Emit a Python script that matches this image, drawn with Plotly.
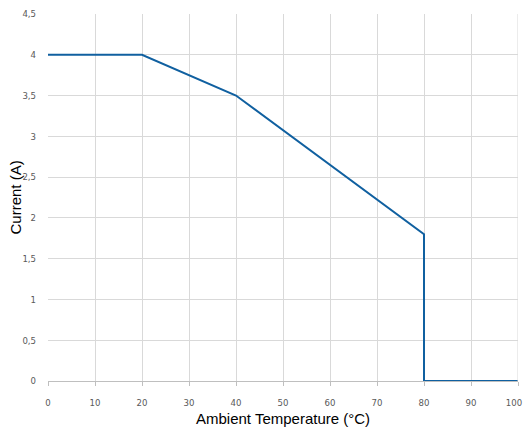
import plotly.graph_objects as go

temperature = [0, 20, 40, 80, 80, 100]
current = [4, 4, 3.5, 1.8, 0, 0]
x_ticks = [0, 10, 20, 30, 40, 50, 60, 70, 80, 90, 100]
y_ticks = [0, 0.5, 1, 1.5, 2, 2.5, 3, 3.5, 4, 4.5]

# last label padded so it stays inside the page edge
x_ticktext = [str(v) for v in x_ticks]
x_ticktext[-1] = x_ticktext[-1] + "\u00a0\u00a0\u00a0"

fig = go.Figure()
fig.add_trace(go.Scatter(x=temperature, y=current, mode="lines",
                         line=dict(color="#1060a0", width=2), cliponaxis=False))

tick_font = dict(family="Liberation Sans Narrow, Arial Narrow, DejaVu Sans Condensed, sans-serif", size=9.5, color="#595959")
title_font = dict(family="Arial, Liberation Sans, sans-serif", size=15, color="black")
fig.update_layout(
    width=523, height=430,
    margin=dict(l=48, r=5, t=14, b=49, autoexpand=False),
    paper_bgcolor="white", plot_bgcolor="white",
    separators=",.",
    showlegend=False,
    xaxis=dict(range=[0, 100], tickvals=x_ticks, ticktext=x_ticktext, showgrid=True,
               gridcolor="#d9d9d9", gridwidth=1, zeroline=False, showline=True,
               linecolor="#bfbfbf", ticks="outside", ticklen=4, tickcolor="#bfbfbf",
               tickfont=tick_font, automargin=False, ticklabelstandoff=9,
               ticklabeloverflow="allow"),
    yaxis=dict(range=[0, 4.5], tickvals=y_ticks, showgrid=True, gridcolor="#d9d9d9",
               gridwidth=1, zeroline=False, showline=False, ticks="", tickfont=tick_font,
               ticklabelstandoff=11, automargin=False, ticklabeloverflow="allow"),
    annotations=[
        dict(text="Current (A)", xref="paper", yref="paper", x=-48/470, y=0.5,
             xanchor="center", yanchor="middle", xshift=15, textangle=-90,
             showarrow=False, font=title_font),
        dict(text="Ambient Temperature (°C)", xref="paper", yref="paper", x=0.5, y=0,
             xanchor="center", yanchor="middle", yshift=-37,
             showarrow=False, font=title_font),
    ],
)
fig.add_shape(type="line", xref="x", yref="paper", x0=100, x1=100, y0=0, y1=1,
              line=dict(color="#d9d9d9", width=1))
fig.write_html("out.html", config={"displayModeBar": False},
               post_script="document.body.style.margin='0';")
